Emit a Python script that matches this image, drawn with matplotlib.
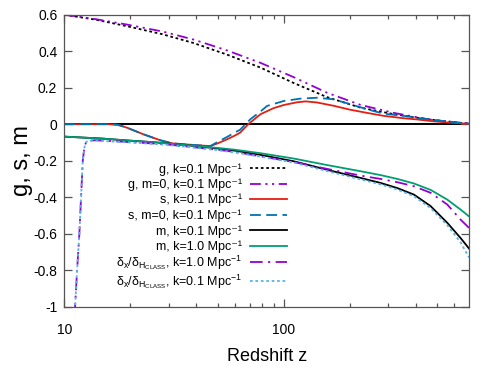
import matplotlib
matplotlib.use("Agg")
import matplotlib.pyplot as plt
from matplotlib.ticker import FixedLocator, NullFormatter

plt.rcParams['font.family'] = ['Liberation Sans', 'DejaVu Sans']
plt.rcParams['mathtext.default'] = 'regular'
plt.rcParams['axes.unicode_minus'] = False

# ---------------- data ----------------
z_g = [10, 14, 19.3, 28, 38.8, 55, 78.5, 111, 158, 225, 318, 454, 643, 700]
g_k01 = [0.600, 0.572, 0.537, 0.493, 0.445, 0.382, 0.310, 0.226, 0.148, 0.090, 0.055, 0.027, 0.007, 0.004]
g_m0 = [0.600, 0.575, 0.546, 0.508, 0.464, 0.405, 0.336, 0.258, 0.172, 0.105, 0.062, 0.027, 0.007, 0.004]

z_s = [10, 16, 17.5, 19.3, 22.9, 27.4, 31, 40, 46.3, 50, 55.2, 60, 63.4, 69, 78.5, 90, 100, 115, 126,
       142, 169, 200, 240, 285, 350, 406, 480, 577, 700]
s_k01 = [0, 0, -0.003, -0.019, -0.055, -0.088, -0.105, -0.115, -0.120, -0.105, -0.083, -0.062, -0.046, 0.0,
         0.055, 0.088, 0.105, 0.120, 0.125, 0.119, 0.101, 0.080, 0.062, 0.046, 0.033, 0.026, 0.016, 0.008, 0.002]

z_s0 = [10, 16, 17.5, 19.3, 22.9, 27.4, 31, 40, 46.3, 50, 55.2, 60, 63.4, 67, 70.5, 78.5, 84, 100, 119,
        142, 169, 202, 240, 285, 350, 406, 480, 577, 700]
s_m0 = [0, 0, -0.003, -0.019, -0.055, -0.088, -0.105, -0.115, -0.120, -0.097, -0.070, -0.045, -0.030, 0.0,
        0.027, 0.070, 0.100, 0.127, 0.140, 0.145, 0.136, 0.109, 0.082, 0.058, 0.046, 0.035, 0.024, 0.012, 0.004]

z_m = [10, 15, 19.3, 25, 30, 38.8, 50, 60, 78.5, 111, 158, 225, 277, 330, 393, 468, 557, 641, 700]
m_k01 = [-0.068, -0.079, -0.089, -0.098, -0.106, -0.119, -0.133, -0.145, -0.168, -0.203, -0.250, -0.295,
         -0.322, -0.350, -0.386, -0.449, -0.540, -0.624, -0.681]
m_k10 = [-0.068, -0.079, -0.089, -0.098, -0.106, -0.118, -0.130, -0.140, -0.159, -0.188, -0.224, -0.258,
         -0.279, -0.300, -0.325, -0.360, -0.413, -0.468, -0.505]

z_d = [11.1, 11.2, 11.43, 11.71, 11.92, 12.14, 12.34, 12.55, 12.8, 13.9, 19.3, 25, 30, 38.8, 50, 60, 78.5,
       111, 158, 225, 277, 330, 393, 468, 557, 641, 700]
dx_k10 = [-1.05, -1.0, -0.805, -0.603, -0.403, -0.2, -0.129, -0.1, -0.09, -0.088, -0.097, -0.105, -0.112,
          -0.126, -0.140, -0.152, -0.176, -0.207, -0.245, -0.282, -0.300, -0.318, -0.340, -0.376, -0.440,
          -0.523, -0.568]
dx_k01 = [-1.05, -1.0, -0.805, -0.603, -0.403, -0.2, -0.129, -0.1, -0.091, -0.090, -0.099, -0.107, -0.114,
          -0.128, -0.142, -0.155, -0.178, -0.210, -0.257, -0.303, -0.330, -0.358, -0.395, -0.460, -0.553,
          -0.648, -0.730]

labels = [
    "g, k=0.1 Mpc⁻¹",
    "g, m=0, k=0.1 Mpc⁻¹",
    "s, k=0.1 Mpc⁻¹",
    "s, m=0, k=0.1 Mpc⁻¹",
    "m, k=0.1 Mpc⁻¹",
    "m, k=1.0 Mpc⁻¹",
    "δ$_x$/δ$_{H_{CLASS}}$, k=1.0 Mpc$^{-1}$",
    "δ$_x$/δ$_{H_{CLASS}}$, k=0.1 Mpc$^{-1}$",
]

xmajor = [10, 100]
xmajor_labels = ["10", "100"]
xminor = [20, 30, 40, 50, 60, 70, 80, 90, 200, 300, 400, 500, 600]
yticks = [-1, -0.8, -0.6, -0.4, -0.2, 0, 0.2, 0.4, 0.6]
ytick_labels = ["-1", "-0.8", "-0.6", "-0.4", "-0.2", "0", "0.2", "0.4", "0.6"]

# ---------------- figure ----------------
fig = plt.figure(figsize=(4.91, 3.68), dpi=100)
ax = fig.add_axes([64.3 / 491, 1 - 306.7 / 368, (469 - 64.3) / 491, (306.7 - 14.7) / 368])

ax.axhline(0, color="black", lw=1.4, zorder=1)

lw = 1.3
lines = []
lines += ax.plot(z_g, g_k01, color="black", lw=lw, dashes=(1.5, 1.5), label=labels[0])
lines += ax.plot(z_g, g_m0, color="#9400d3", lw=lw, dashes=(6, 2.5, 1.2, 2.5, 1.2, 2.5), label=labels[1])
lines += ax.plot(z_s, s_k01, color="#e51e10", lw=lw, label=labels[2])
lines += ax.plot(z_s0, s_m0, color="#0072b2", lw=lw, dashes=(6, 3), label=labels[3])
lines += ax.plot(z_m, m_k01, color="black", lw=lw, label=labels[4])
lines += ax.plot(z_m, m_k10, color="#009e73", lw=lw, label=labels[5])
lines += ax.plot(z_d, dx_k10, color="#9400d3", lw=lw, dashes=(7, 3, 1.2, 3), label=labels[6])
lines += ax.plot(z_d, dx_k01, color="#56b4e9", lw=lw, dashes=(1.5, 1.5), label=labels[7])

ax.set_xscale("log")
ax.set_xlim(10, 700)
ax.set_ylim(-1, 0.6)
ax.xaxis.set_major_locator(FixedLocator(xmajor))
ax.set_xticklabels(xmajor_labels)
ax.xaxis.set_minor_locator(FixedLocator(xminor))
ax.xaxis.set_minor_formatter(NullFormatter())
ax.set_yticks(yticks)
ax.set_yticklabels(ytick_labels)

border = "#555555"
for sp in ax.spines.values():
    sp.set_color(border)
    sp.set_linewidth(0.9)
ax.tick_params(which="major", direction="in", length=6, width=0.9, color=border,
               top=True, right=True, labelsize=10)
ax.tick_params(which="minor", direction="in", length=3, width=0.9, color=border,
               top=True, right=True)
ax.tick_params(axis="x", which="major", pad=12)
ax.tick_params(axis="y", which="major", pad=5)

ax.set_xlabel("Redshift z", fontsize=13, labelpad=8)
ax.set_ylabel("g, s, m", fontsize=17, labelpad=0)

leg_x = (287 - 64.3) / (469 - 64.3)
leg_common = dict(loc="upper right", frameon=False, markerfirst=False, fontsize=9, handlelength=3.0,
                  handletextpad=0.6, borderpad=0, borderaxespad=0)
leg1 = ax.legend(lines[:6], labels[:6], bbox_to_anchor=(leg_x, (306.7 - 163) / 292),
                 labelspacing=0.24, **leg_common)
ax.add_artist(leg1)
leg2 = ax.legend(lines[6:], labels[6:], bbox_to_anchor=(leg_x, (306.7 - 253) / 292),
                 labelspacing=0.02, **leg_common)

fig.savefig("out.png", dpi=100)
